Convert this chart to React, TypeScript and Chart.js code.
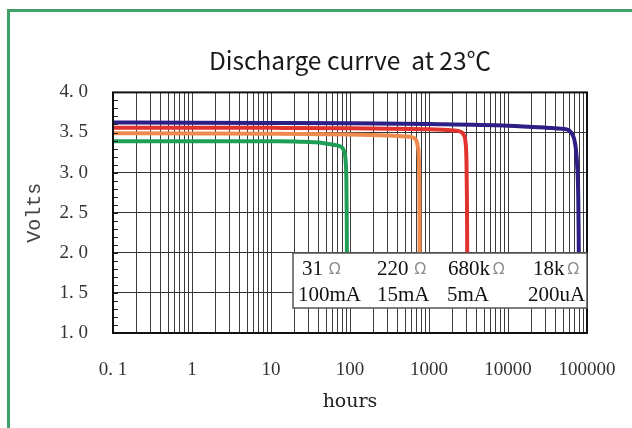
import React, { useEffect, useRef } from 'react';
import { Chart, registerables } from 'chart.js';

Chart.register(...registerables);

const TITLE = 'Discharge currve  at 23℃';
const X_TITLE = 'hours';
const Y_TITLE = 'Volts';

const xTickValues = [0.1, 1, 10, 100, 1000, 10000, 100000];
const xTickLabels = ['0. 1', '1', '10', '100', '1000', '10000', '100000'];
const yTickValues = [1.0, 1.5, 2.0, 2.5, 3.0, 3.5, 4.0];
const yTickLabels = ['1. 0', '1. 5', '2. 0', '2. 5', '3. 0', '3. 5', '4. 0'];

const loadResistances = ['31', '220', '680k', '18k'];
const loadCurrents = ['100mA', '15mA', '5mA', '200uA'];
const seriesColors = ['#1f9e57', '#ef8a4e', '#e2342f', '#2c1f86'];

const greenHours = [0.1, 1, 10, 23, 45, 61, 72, 79, 84, 88, 90, 91, 91.5];
const greenVolts = [3.392, 3.392, 3.39, 3.386, 3.37, 3.347, 3.333, 3.313, 3.27, 3.15, 2.9, 2.4, 1.8];

const orangeHours = [0.1, 1, 10, 100, 300, 500, 620, 680, 720, 745, 755, 760, 762];
const orangeVolts = [3.49, 3.488, 3.485, 3.475, 3.462, 3.45, 3.438, 3.41, 3.33, 3.15, 2.8, 2.3, 1.8];

const redHours = [0.1, 1, 10, 100, 1000, 2000, 2500, 2750, 2900, 2980, 3020, 3040, 3050];
const redVolts = [3.56, 3.56, 3.558, 3.553, 3.54, 3.525, 3.51, 3.47, 3.38, 3.15, 2.7, 2.2, 1.8];

const blueHours = [0.1, 1, 10, 100, 1000, 10000, 30000, 50000, 58000, 64000, 70500, 75000, 77500, 78500, 79000];
const blueVolts = [3.625, 3.623, 3.62, 3.615, 3.605, 3.585, 3.56, 3.545, 3.53, 3.49, 3.37, 3.1, 2.7, 2.2, 1.8];

const seriesHours = [greenHours, orangeHours, redHours, blueHours];
const seriesVolts = [greenVolts, orangeVolts, redVolts, blueVolts];

function buildLogGrid(): number[] {
  const out: number[] = [];
  for (let d = -1; d <= 4; d++) {
    for (let m = 1; m <= 9; m++) out.push(Number((m * Math.pow(10, d)).toPrecision(6)));
  }
  out.push(100000);
  return out;
}

const decorPlugin = {
  id: 'decor',
  beforeDraw(chart: any) {
    const ctx = chart.ctx;
    ctx.save();
    ctx.fillStyle = '#ffffff';
    ctx.fillRect(0, 0, chart.width, chart.height);
    ctx.fillStyle = '#3fa06b';
    ctx.fillRect(7, 9, chart.width - 7, 3);
    ctx.fillRect(7, 9, 3, chart.height - 9);
    ctx.restore();
  },
  afterDraw(chart: any) {
    const ctx = chart.ctx;
    const a = chart.chartArea;
    const y = chart.scales.y;
    ctx.save();
    ctx.strokeStyle = '#222';
    ctx.lineWidth = 1;
    for (let i = 0; i <= 30; i++) {
      const py = Math.round(y.getPixelForValue(1 + i * 0.1)) + 0.5;
      ctx.beginPath();
      ctx.moveTo(a.left, py);
      ctx.lineTo(a.left + 5, py);
      ctx.stroke();
    }
    ctx.lineWidth = 2;
    ctx.strokeStyle = '#111';
    ctx.strokeRect(a.left, a.top, a.right - a.left, a.bottom - a.top);

    // annotation box
    const bx = 293, by = 253, bw = a.right - 293, bh = 55;
    ctx.fillStyle = '#ffffff';
    ctx.fillRect(bx, by, bw, bh);
    ctx.strokeStyle = '#555';
    ctx.lineWidth = 1.5;
    ctx.strokeRect(bx, by, bw, bh);

    const rX = [302, 377, 448, 533];
    const cX = [298, 377, 447, 528];
    ctx.textBaseline = 'alphabetic';
    ctx.textAlign = 'left';
    for (let i = 0; i < loadResistances.length; i++) {
      ctx.font = '21px "Liberation Serif", serif';
      ctx.fillStyle = '#111';
      ctx.fillText(loadResistances[i], rX[i], 275);
      const w = ctx.measureText(loadResistances[i]).width;
      ctx.font = '16px "Noto Sans", sans-serif';
      ctx.fillStyle = '#8a8a8a';
      ctx.fillText('Ω', rX[i] + w + (i < 2 ? 6 : 3), 274);
      ctx.font = '21px "Liberation Serif", serif';
      ctx.fillStyle = '#111';
      ctx.fillText(loadCurrents[i], cX[i], 301);
    }
    ctx.restore();
  },
};

export default function App() {
  const ref = useRef<HTMLCanvasElement | null>(null);
  useEffect(() => {
    if (!ref.current) return;
    const grid = buildLogGrid();
    const chart = new Chart(ref.current, {
      type: 'line',
      data: {
        datasets: seriesHours.map((hs, i) => ({
          label: loadCurrents[i],
          data: hs.map((h, j) => ({ x: h, y: seriesVolts[i][j] })),
          borderColor: seriesColors[i],
          backgroundColor: seriesColors[i],
          borderWidth: 4,
          pointRadius: 0,
          cubicInterpolationMode: 'monotone' as const,
          fill: false,
        })),
      },
      options: {
        animation: false,
        responsive: false,
        devicePixelRatio: 1,
        layout: { padding: { top: 30, left: 0, right: 45, bottom: 0 } },
        plugins: {
          legend: { display: false },
          tooltip: { enabled: false },
          title: {
            display: true,
            text: TITLE,
            fullSize: false,
            color: '#1a1a1a',
            font: { family: '"Noto Sans CJK SC", sans-serif', size: 24.5, weight: 'normal' },
            padding: { top: 16, bottom: 17 },
          },
        },
        scales: {
          x: {
            type: 'logarithmic',
            min: 0.1,
            max: 100000,
            afterBuildTicks: (s: any) => {
              s.ticks = grid.map((v) => ({ value: v }));
            },
            afterFit: (s: any) => {
              s.height = 95;
            },
            ticks: {
              autoSkip: false,
              maxRotation: 0,
              minRotation: 0,
              padding: 0,
              color: '#333',
              font: { family: '"Liberation Serif", serif', size: 19 },
              callback: (v: any) => {
                const idx = xTickValues.findIndex((t) => Math.abs(Math.log10(t) - Math.log10(Number(v))) < 1e-6);
                return idx >= 0 ? xTickLabels[idx] : '';
              },
            },
            grid: { color: '#3c3c3c', lineWidth: 1, drawTicks: true, tickLength: 26, tickColor: 'rgba(0,0,0,0)' },
            border: { display: false },
            title: {
              display: true,
              text: X_TITLE,
              color: '#222',
              font: { family: '"DejaVu Serif", serif', size: 19 },
              padding: { top: 0, bottom: 15 },
            },
          },
          y: {
            type: 'linear',
            min: 1,
            max: 4,
            afterFit: (s: any) => {
              s.width = 113;
            },
            ticks: {
              stepSize: 0.5,
              padding: 25,
              color: '#333',
              font: { family: '"Liberation Serif", serif', size: 19 },
              callback: (v: any) => {
                const idx = yTickValues.findIndex((t) => Math.abs(t - Number(v)) < 1e-6);
                return idx >= 0 ? yTickLabels[idx] : '';
              },
            },
            grid: { color: '#333', lineWidth: 1, drawTicks: false },
            border: { display: false },
            title: {
              display: true,
              text: Y_TITLE,
              color: '#444',
              font: { family: '"Liberation Mono", monospace', size: 20 },
              padding: { top: 23, bottom: 0 },
            },
          },
        },
      },
      plugins: [decorPlugin],
    } as any);
    return () => chart.destroy();
  }, []);
  return (
    <div style={{ position: 'fixed', left: 0, top: 0, width: 632, height: 428 }}>
      <canvas ref={ref} width={632} height={428} style={{ display: 'block' }} />
    </div>
  );
}
